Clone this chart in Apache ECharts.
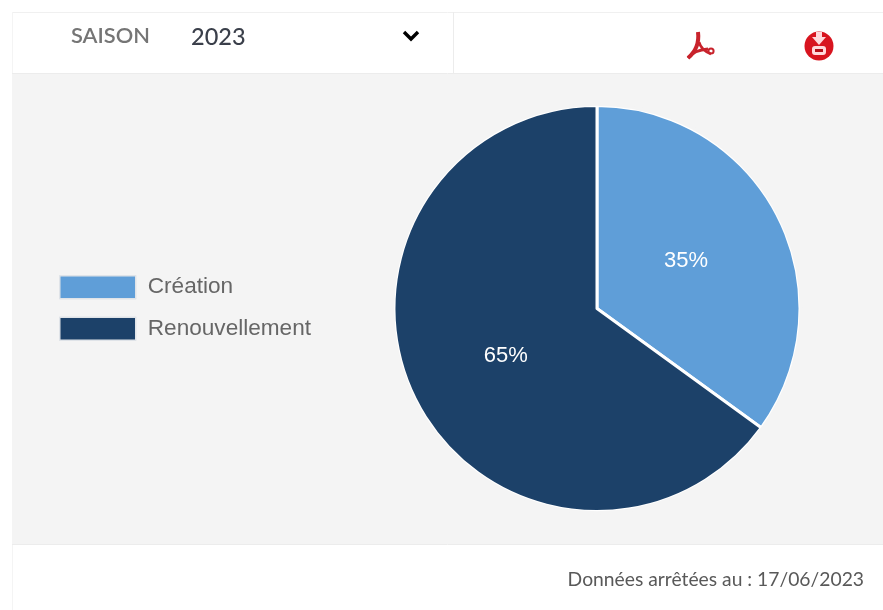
<!DOCTYPE html>
<html><head><meta charset="utf-8">
<style>html,body{margin:0;padding:0;background:#fff}#c{width:883px;height:610px}</style>
<script src="https://cdn.jsdelivr.net/npm/echarts@6/dist/echarts.min.js"></script>
</head><body><div id="c"></div>
<script>
const categories = ['Création', 'Renouvellement'];
const values = [35, 65];
const colors = ['#5f9ed8', '#1c4169'];
const season = '2023';
const seasonLabel = 'SAISON';
const footerText = 'Données arrêtées au : 17/06/2023';

const chart = echarts.init(document.getElementById('c'), null, {renderer: 'canvas'});
chart.setOption({
  animation: false,
  backgroundColor: '#ffffff',
  color: colors,
  legend: {
    orient: 'vertical', left: 54, top: 270,
    itemWidth: 76, itemHeight: 23, itemGap: 17,
    icon: 'rect',
    itemStyle: {borderColor: '#dfe3e8', borderWidth: 1.5},
    textStyle: {fontFamily: 'Liberation Sans', fontSize: 22.6, color: '#666666', padding: [-6, 0, 0, 7]},
    data: categories
  },
  series: [{
    type: 'pie',
    center: [597, 308.5],
    radius: [0, 203],
    startAngle: 90,
    clockwise: true,
    silent: true,
    itemStyle: {borderColor: '#ffffff', borderWidth: 3},
    label: {
      show: true, position: 'inside',
      formatter: '{d}%',
      color: '#ffffff', fontFamily: 'Liberation Sans', fontSize: 22
    },
    labelLine: {show: false},
    labelLayout: p => ({dx: p.dataIndex === 0 ? -4 : 2}),
    data: categories.map((n, i) => ({name: n, value: values[i]}))
  }],
  graphic: [
    {type: 'rect', z: -10, shape: {x: 12, y: 74, width: 871, height: 470}, style: {fill: '#f4f4f4'}},
    {type: 'circle', z: 10, silent: true, shape: {cx: 597, cy: 308.5, r: 204.2}, style: {stroke: '#f4f4f4', lineWidth: 3, fill: 'none'}},
    {type: 'line', z: -9, shape: {x1: 12, y1: 12.5, x2: 883, y2: 12.5}, style: {stroke: '#f0f0f0', lineWidth: 1}},
    {type: 'line', z: -9, shape: {x1: 12.5, y1: 12, x2: 12.5, y2: 610}, style: {stroke: '#f4f4f4', lineWidth: 1}},
    {type: 'line', z: -9, shape: {x1: 12, y1: 73.5, x2: 883, y2: 73.5}, style: {stroke: '#ececec', lineWidth: 1}},
    {type: 'line', z: -9, shape: {x1: 453.5, y1: 12, x2: 453.5, y2: 74}, style: {stroke: '#ececec', lineWidth: 1}},
    {type: 'line', z: -9, shape: {x1: 12, y1: 544.5, x2: 883, y2: 544.5}, style: {stroke: '#ececec', lineWidth: 1}},
    {type: 'text', x: 71, y: 36, style: {text: seasonLabel, font: '600 21.8px Lato', fill: '#757575', textVerticalAlign: 'middle'}},
    {type: 'text', x: 191, y: 37, style: {text: season, font: '500 23.5px Lato', fill: '#3a3f4a', textVerticalAlign: 'middle'}},
    {type: 'polyline', shape: {points: [[404, 32], [411, 39], [418, 32]]}, style: {stroke: '#000', lineWidth: 3.4, fill: 'none'}},
    {type: 'bezierCurve', shape: {x1: 698, y1: 32, cpx1: 700, cpy1: 48, x2: 688, y2: 58}, style: {stroke: '#c8232c', lineWidth: 4, fill: 'none'}},
    {type: 'bezierCurve', shape: {x1: 688, y1: 58, cpx1: 694, cpy1: 50, x2: 708, y2: 49}, style: {stroke: '#c8232c', lineWidth: 2.8, fill: 'none'}},
    {type: 'bezierCurve', shape: {x1: 699, y1: 42, cpx1: 701, cpy1: 50, x2: 711, y2: 54}, style: {stroke: '#c8232c', lineWidth: 2.8, fill: 'none'}},
    {type: 'circle', shape: {cx: 711, cy: 51, r: 2.6}, style: {stroke: '#c8232c', lineWidth: 2, fill: 'none'}},
    {type: 'circle', shape: {cx: 819, cy: 46, r: 14.5}, style: {fill: '#d8141f'}},
    {type: 'polygon', shape: {points: [[816, 32], [822, 32], [822, 37], [826, 37], [819, 45], [812, 37], [816, 37]]}, style: {fill: '#ffd9dc'}},
    {type: 'rect', shape: {x: 812, y: 46, width: 14, height: 9, r: 3}, style: {fill: '#ffd9dc'}},
    {type: 'rect', shape: {x: 815, y: 49, width: 8, height: 3}, style: {fill: '#b5101a'}},
    {type: 'text', x: 864, y: 580, style: {text: footerText, font: '19.3px Lato', fill: '#595959', textAlign: 'right', textVerticalAlign: 'middle'}}
  ]
});
</script></body></html>
